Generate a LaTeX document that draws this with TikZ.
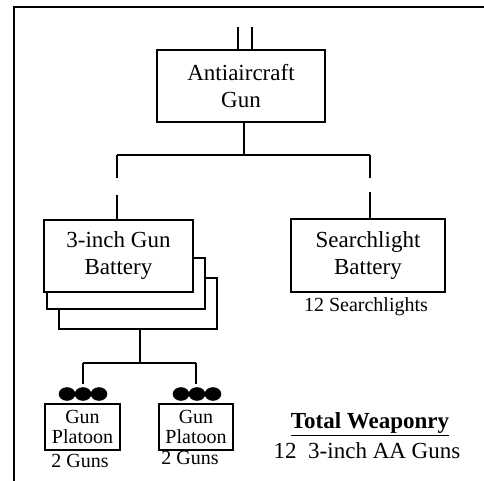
\documentclass[tikz,border=0pt]{standalone}
\usepackage{fontspec}
\setmainfont{Liberation Serif}
\begin{document}
\begin{tikzpicture}[x=1pt,y=-1pt,
  line width=1.5pt,
  unitbox/.style={draw, fill=white, inner sep=0pt, align=center},
  big/.style={font=\fontsize{23}{27}\selectfont},
  small/.style={font=\fontsize{20}{20}\selectfont},
  gun/.style={fill=black, draw=none}]
\useasboundingbox (0,0) rectangle (484,481);

% page frame (top and left rules only)
\draw (484,7) -- (14,7) -- (14,481);

% battery stack: two offset cards behind the front box
\node[unitbox, minimum width=158pt, minimum height=51pt] (card3) at (138,303.5) {};
\node[unitbox, minimum width=158pt, minimum height=51pt] (card2) at (126,283.5) {};

% unit boxes
\node[unitbox, big, minimum width=168pt, minimum height=72pt] (aa) at (241,86) {Antiaircraft\\Gun};
\node[unitbox, big, minimum width=149pt, minimum height=72pt] (bat) at (118.5,256) {3-inch Gun\\Battery};
\node[unitbox, big, minimum width=154pt, minimum height=73pt] (sl) at (368,255.5) {Searchlight\\Battery};
\node[unitbox, small, minimum width=75pt, minimum height=46pt] (plL) at (82.5,427) {Gun\\Platoon};
\node[unitbox, small, minimum width=74pt, minimum height=46pt] (plR) at (196,427) {Gun\\Platoon};

% captions
\node[small] (slcap) at (366,307) {12 Searchlights};
\node[small] (gunsL) at (80,461) {2 Guns};
\node[small] (gunsR) at (190,458) {2 Guns};
\node[big, font=\fontsize{23}{27}\selectfont\bfseries] (totT) at (370,424) {\underline{Total Weaponry}};
\node[big] (totV) at (367,451) {12\ \ 3-inch AA Guns};

% incoming double line
\coordinate (inA) at (238,27);
\coordinate (inB) at (252,27);
\draw (inA) -- (inA |- aa.north);
\draw (inB) -- (inB |- aa.north);

% headquarters to subordinate units
\coordinate (hqOut) at (244,122);
\coordinate (bus) at (244,155);
\coordinate (busL) at (117,155);
\coordinate (busR) at (370,155);
\coordinate (gapL1) at (117,178);
\coordinate (gapL2) at (117,195);
\coordinate (gapR1) at (370,178);
\coordinate (gapR2) at (370,192);
\draw (hqOut) -- (bus);
\draw (busL) -- (busR);
\draw (busL) -- (gapL1);
\draw (gapL2) -- (gapL2 |- bat.north);
\draw (busR) -- (gapR1);
\draw (gapR2) -- (gapR2 |- sl.north);

% battery to platoons
\coordinate (batOut) at (140,329);
\coordinate (pbus) at (140,363);
\coordinate (pbusL) at (83,363);
\coordinate (pbusR) at (196,363);
\coordinate (pdropL) at (83,384);
\coordinate (pdropR) at (196,384);
\draw (batOut) -- (pbus);
\draw (pbusL) -- (pbusR);
\draw (pbusL) -- (pdropL);
\draw (pbusR) -- (pdropR);

% platoon strength symbols
\foreach \x in {67,83,99} \fill[gun] (\x,394) ellipse [x radius=8.3, y radius=6.8];
\foreach \x in {181,197,213} \fill[gun] (\x,394) ellipse [x radius=8.3, y radius=6.8];
\end{tikzpicture}
\end{document}
